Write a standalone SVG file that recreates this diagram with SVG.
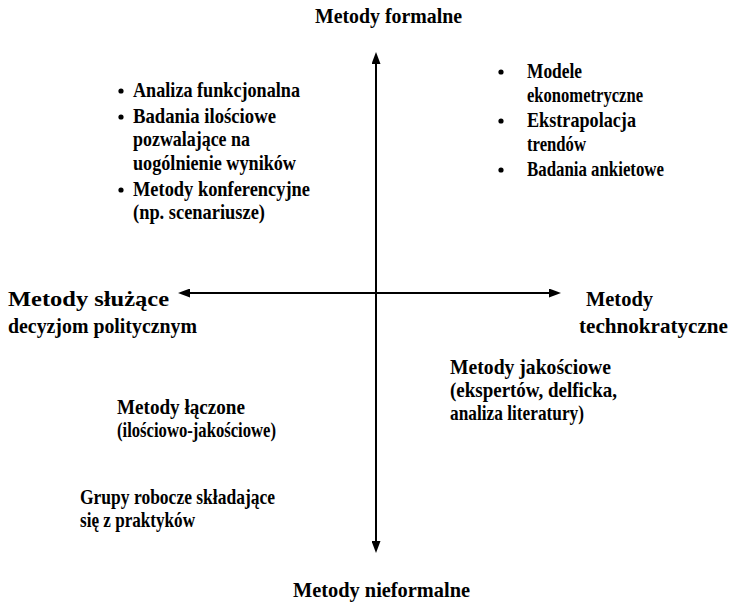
<svg xmlns="http://www.w3.org/2000/svg" width="731" height="611" viewBox="0 0 731 611">
<style>
.ax{stroke:#000;stroke-width:2;fill:none}
</style>
<defs>
<marker id="ah" viewBox="0 0 12 9" refX="4" refY="4.5" markerWidth="12" markerHeight="9" markerUnits="userSpaceOnUse" orient="auto-start-reverse">
<path d="M0,0 L12,4.5 L0,9 z" fill="#000"/>
</marker>
</defs>
<rect width="731" height="611" fill="#fff"/>
<g id="connectors">
<line class="ax" x1="376" y1="60" x2="376" y2="545" marker-start="url(#ah)" marker-end="url(#ah)"/>
<line class="ax" x1="186" y1="293" x2="553" y2="293" marker-start="url(#ah)" marker-end="url(#ah)"/>
</g>
<g font-family="Liberation Serif, Times New Roman, serif" font-weight="bold" font-size="21" fill="#000">
<g id="top"><text x="315" y="23" textLength="147" lengthAdjust="spacingAndGlyphs">Metody formalne</text></g>
<g id="bottom"><text x="293" y="597" textLength="177" lengthAdjust="spacingAndGlyphs">Metody nieformalne</text></g>
<g id="left">
<text x="8" y="306" textLength="161" lengthAdjust="spacingAndGlyphs">Metody służące</text>
<text x="8" y="333" textLength="189" lengthAdjust="spacingAndGlyphs">decyzjom politycznym</text>
</g>
<g id="right">
<text x="586" y="306" textLength="67" lengthAdjust="spacingAndGlyphs">Metody</text>
<text x="579" y="333" textLength="149" lengthAdjust="spacingAndGlyphs">technokratyczne</text>
</g>
<g id="topleft">
<circle cx="121" cy="91" r="2.6"/>
<circle cx="121" cy="117" r="2.6"/>
<circle cx="121" cy="190" r="2.6"/>
<text x="133" y="97" textLength="167" lengthAdjust="spacingAndGlyphs">Analiza funkcjonalna</text>
<text x="133" y="123" textLength="143" lengthAdjust="spacingAndGlyphs">Badania ilościowe</text>
<text x="133" y="146" textLength="117" lengthAdjust="spacingAndGlyphs">pozwalające na</text>
<text x="133" y="170" textLength="163" lengthAdjust="spacingAndGlyphs">uogólnienie wyników</text>
<text x="133" y="196" textLength="177" lengthAdjust="spacingAndGlyphs">Metody konferencyjne</text>
<text x="133" y="219" textLength="132" lengthAdjust="spacingAndGlyphs">(np. scenariusze)</text>
</g>
<g id="topright">
<circle cx="501" cy="72" r="2.6"/>
<circle cx="501" cy="121" r="2.6"/>
<circle cx="501" cy="170" r="2.6"/>
<text x="527" y="78" textLength="55" lengthAdjust="spacingAndGlyphs">Modele</text>
<text x="527" y="102" textLength="116" lengthAdjust="spacingAndGlyphs">ekonometryczne</text>
<text x="527" y="127" textLength="109" lengthAdjust="spacingAndGlyphs">Ekstrapolacja</text>
<text x="527" y="151" textLength="59" lengthAdjust="spacingAndGlyphs">trendów</text>
<text x="527" y="176" textLength="137" lengthAdjust="spacingAndGlyphs">Badania ankietowe</text>
</g>
<g id="bottomright">
<text x="450" y="374" textLength="161" lengthAdjust="spacingAndGlyphs">Metody  jakościowe</text>
<text x="450" y="397" textLength="167" lengthAdjust="spacingAndGlyphs">(ekspertów, delficka,</text>
<text x="450" y="420" textLength="134" lengthAdjust="spacingAndGlyphs">analiza literatury)</text>
</g>
<g id="bottomleft1">
<text x="117" y="414" textLength="128" lengthAdjust="spacingAndGlyphs">Metody  łączone</text>
<text x="117" y="437" textLength="159" lengthAdjust="spacingAndGlyphs">(ilościowo-jakościowe)</text>
</g>
<g id="bottomleft2">
<text x="80" y="504" textLength="195" lengthAdjust="spacingAndGlyphs">Grupy robocze składające</text>
<text x="80" y="527" textLength="115" lengthAdjust="spacingAndGlyphs">się z praktyków</text>
</g>
</g>
</svg>
